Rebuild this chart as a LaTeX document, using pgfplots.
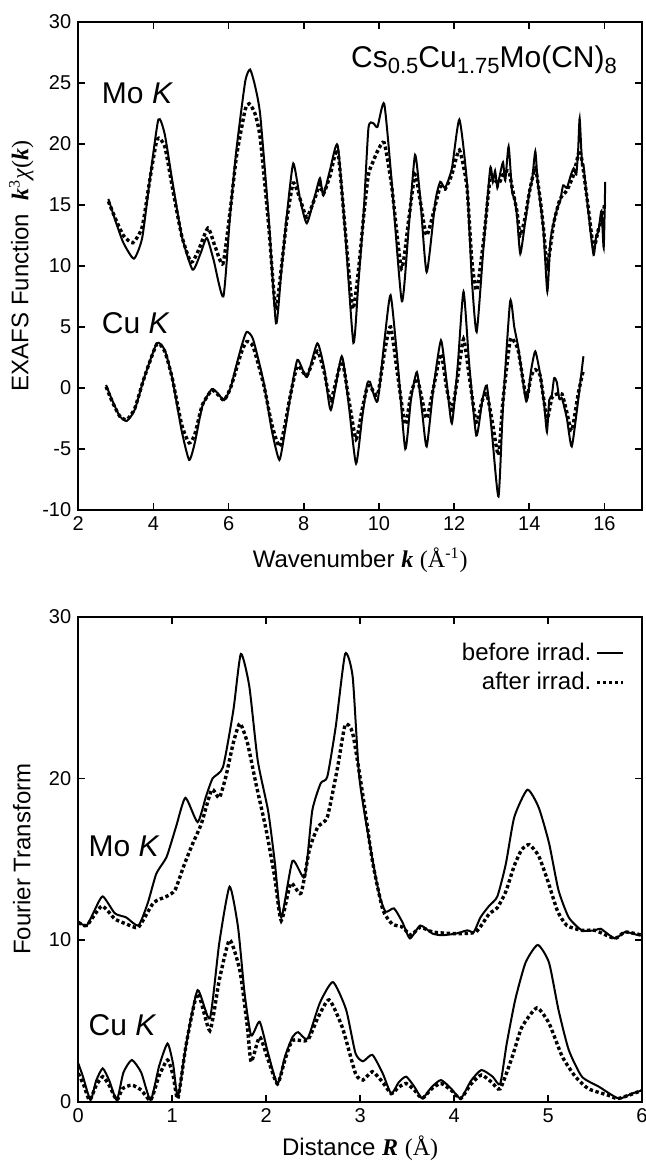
\documentclass[border=0pt]{standalone}
\usepackage{fontspec}
\setmainfont{Liberation Sans}
\newfontfamily\tnr{Liberation Serif}
\usepackage{pgfplots}
\pgfplotsset{compat=1.18}

\newcommand\sub[1]{\raisebox{-0.4ex}{\fontsize{11}{12}\selectfont #1}}
\newcommand\bk{{\tnr\bfseries\itshape k}}

\pgfplotsset{
  panel/.style={
    scale only axis, width=281.9pt,
    axis line style={line width=1pt},
    tick style={line width=0.8pt, black},
    major tick length=3.5pt,
    ticklabel style={font=\fontsize{10}{11}\selectfont},
    /pgf/number format/assume math mode=true,
    label style={font=\fontsize{12}{14}\selectfont, inner sep=1pt},
  },
  before/.style={black, line width=1pt, smooth, tension=0.35},
  after/.style={black, line width=1.7pt, dash pattern=on 1.7pt off 1.3pt, smooth, tension=0.35},
}

\begin{document}
\begin{tikzpicture}
% ---- bottom panel: Fourier transform ----
\begin{axis}[panel,
    at={(0,0)}, anchor=south west,
    height=242.5pt,
    xmin=0, xmax=6, ymin=0, ymax=30,
    xtick={0,1,2,3,4,5,6}, ytick={0,10,20,30},
    xlabel={Distance {\tnr\bfseries\itshape R} {\tnr(Å)}},
    ylabel={Fourier Transform},
    x label style={at={(axis description cs:0.5,-0.096)}, anchor=center},
    y label style={at={(axis description cs:-0.100,0.5)}, anchor=center},
    legend style={at={(0.97,0.955)}, anchor=north east, draw=none, fill=none,
      inner sep=0pt, font=\fontsize{12}{13.5}\selectfont, row sep=0.5pt},
    legend cell align=right, legend plot pos=right,
    legend image code/.code={\draw[#1, smooth=false] (0pt,0pt) -- (13pt,0pt);},
]
\addplot[before] coordinates {
(0,11.1) (0.09,10.9) (0.17,11.8) (0.26,12.7) (0.39,11.65) (0.51,11.4) (0.64,10.9)
(0.74,12.3) (0.83,14.1) (0.94,15.15) (1.04,17.0) (1.14,18.8) (1.27,17.3) (1.36,18.9)
(1.43,20.0) (1.54,20.7) (1.65,24.2) (1.73,27.7) (1.82,25.7) (1.91,21.1) (2.02,18.0)
(2.09,14.9) (2.16,11.4) (2.28,14.9) (2.41,13.9) (2.49,18.0) (2.58,19.7) (2.65,20.1)
(2.74,23.2) (2.84,27.7) (2.92,26.3) (2.99,20.1) (3.1,16.0) (3.2,12.9) (3.27,11.75)
(3.36,11.96) (3.45,11.1) (3.53,10.1) (3.64,10.9) (3.77,10.4) (3.87,10.3) (4.02,10.4)
(4.14,10.6) (4.21,10.5) (4.28,11.4) (4.37,12.1) (4.46,12.7) (4.55,14.7) (4.64,17.6)
(4.78,19.3) (4.9,18.2) (5.01,16.0) (5.11,13.1) (5.22,11.4) (5.36,10.6) (5.5,10.6)
(5.56,10.7) (5.71,10.1) (5.82,10.5) (5.96,10.3) (6.0,10.3)
};
\addlegendentry{before irrad.}
\addplot[after] coordinates {
(0,11.1) (0.09,10.9) (0.25,12.1) (0.39,11.3) (0.51,11.0) (0.64,10.8) (0.8,12.3)
(0.94,12.7) (1.03,13.1) (1.13,14.7) (1.22,16.0) (1.31,17.2) (1.42,19.3) (1.5,18.8)
(1.57,20.1) (1.65,22.2) (1.72,23.4) (1.8,22.2) (1.89,19.7) (2.0,16.8) (2.09,13.9)
(2.16,11.2) (2.26,13.5) (2.37,12.9) (2.46,15.6) (2.55,17.0) (2.65,17.6) (2.76,20.7)
(2.84,23.3) (2.92,22.8) (3.03,18.9) (3.13,14.9) (3.24,11.9) (3.34,11.0) (3.45,10.8)
(3.54,10.3) (3.64,10.8) (3.77,10.5) (4.0,10.4) (4.23,10.5) (4.37,11.6) (4.46,12.0)
(4.55,13.0) (4.64,14.6) (4.72,15.6) (4.8,15.9) (4.9,15.2) (5.0,13.6) (5.1,11.8)
(5.2,10.9) (5.36,10.6) (5.5,10.6) (5.71,10.1) (5.82,10.5) (6.0,10.3)
};
\addlegendentry{after irrad.}
\addplot[before, forget plot] coordinates {
(0,2.37) (0.05,1.55) (0.13,0.1) (0.19,1.3) (0.26,2.06) (0.33,1.3) (0.41,0.1)
(0.48,1.8) (0.57,2.58) (0.67,1.8) (0.77,0.1) (0.86,2.2) (0.95,3.6) (1.01,2.3)
(1.06,0.3) (1.15,3.6) (1.27,6.9) (1.4,5.15) (1.5,9.8) (1.61,13.3) (1.7,10.8)
(1.77,6.7) (1.84,4.1) (1.93,4.95) (2.02,3.0) (2.12,1.1) (2.2,2.8) (2.28,4.0)
(2.34,4.3) (2.44,3.9) (2.57,6.1) (2.71,7.4) (2.85,5.7) (2.95,3.0) (3.03,2.5)
(3.13,2.9) (3.24,1.75) (3.33,0.5) (3.41,1.2) (3.49,1.55) (3.58,0.9) (3.66,0.2)
(3.76,0.9) (3.86,1.34) (3.97,0.8) (4.07,0.2) (4.18,1.3) (4.29,1.96) (4.41,1.55)
(4.49,1.1) (4.56,3.6) (4.65,6.3) (4.76,8.6) (4.89,9.7) (5.01,8.6) (5.11,5.7)
(5.22,3.2) (5.36,1.55) (5.54,0.93) (5.75,0.2) (5.89,0.5) (6.0,0.7)
};
\addplot[after, forget plot] coordinates {
(0,1.75) (0.06,1.0) (0.12,0.1) (0.19,1.0) (0.26,1.55) (0.33,1.0) (0.41,0.1)
(0.47,0.8) (0.57,1.03) (0.67,0.72) (0.77,0.1) (0.86,1.6) (0.95,2.58) (1.01,1.6)
(1.06,0.2) (1.15,3.6) (1.27,6.7) (1.4,4.4) (1.5,7.5) (1.61,10.0) (1.72,8.1)
(1.8,4.6) (1.84,2.47) (1.93,4.0) (2.02,2.6) (2.12,1.1) (2.2,2.6) (2.28,3.8)
(2.44,3.8) (2.55,5.2) (2.67,6.3) (2.81,4.6) (2.95,1.75) (3.03,1.34) (3.13,1.86)
(3.24,1.2) (3.33,0.5) (3.41,0.9) (3.49,1.13) (3.58,0.7) (3.66,0.2) (3.76,0.8)
(3.86,1.13) (3.97,0.7) (4.07,0.2) (4.18,1.1) (4.29,1.65) (4.4,1.2) (4.49,0.8)
(4.62,2.8) (4.72,4.6) (4.88,5.8) (5.01,4.85) (5.15,2.8) (5.29,1.55) (5.43,0.8)
(5.64,0.4) (5.75,0.2) (6.0,0.7)
};
\node[anchor=base west, inner sep=0pt, font=\fontsize{15}{18}\selectfont] at (axis cs:0.106,15.15) {Mo \textit{K}};
\node[anchor=base west, inner sep=0pt, font=\fontsize{15}{18}\selectfont] at (axis cs:0.106,4.12) {Cu \textit{K}};
\end{axis}

% ---- top panel: EXAFS oscillations ----
\begin{axis}[panel,
    at={(0,295.9pt)}, anchor=south west,
    height=244pt,
    xmin=2, xmax=17, ymin=-10, ymax=30,
    xtick={2,4,...,16}, ytick={-10,-5,...,30},
    xlabel={Wavenumber \bk\ {\tnr(Å\textsuperscript{-1})}},
    ylabel={EXAFS Function \ \bk\textsuperscript{\tnr 3}{\tnr\itshape χ}{\tnr(}\bk{\tnr)}},
    x label style={at={(axis description cs:0.5,-0.1025)}, anchor=center},
    y label style={at={(axis description cs:-0.101,0.5)}, anchor=center},
]
\addplot[before] coordinates {
(2.8,15.5) (3.0,13.6) (3.2,11.9) (3.48,10.6) (3.7,12.3) (3.9,17.0) (4.13,22.0)
(4.3,20.8) (4.5,17.0) (4.75,12.5) (5.04,9.7) (5.25,11.0) (5.42,12.3) (5.6,10.5)
(5.86,7.5) (6.04,14.2) (6.21,19.6) (6.44,25.1) (6.57,26.1) (6.7,24.8) (6.84,22.4)
(7.06,14.2) (7.26,5.3) (7.4,9.5) (7.55,14.2) (7.72,18.4) (7.9,15.5) (8.08,13.5)
(8.3,15.8) (8.43,17.2) (8.52,15.8) (8.7,17.9) (8.9,19.9) (9.1,12.8) (9.32,3.7)
(9.45,8.5) (9.59,14.2) (9.72,21.3) (9.85,21.7) (9.96,21.4) (10.14,23.3) (10.34,16.9)
(10.61,7.1) (10.8,13.5) (10.96,19.1) (11.1,15.5) (11.27,9.5) (11.5,15.3) (11.63,16.9)
(11.76,16.4) (11.94,18.0) (12.14,22.0) (12.34,16.9) (12.47,9.0) (12.6,4.6) (12.78,11.5)
(12.96,18.0) (13.03,16.9) (13.09,17.8) (13.15,16.4) (13.2,17.2) (13.3,18.5) (13.36,17.0)
(13.45,19.8) (13.54,16.1) (13.6,15.6) (13.67,14.2) (13.76,11.0) (13.89,13.6) (14.0,16.0)
(14.08,17.2) (14.16,19.4) (14.22,17.0) (14.3,15.0) (14.38,12.8) (14.48,7.9) (14.56,12.0)
(14.65,13.6) (14.75,14.8) (14.82,15.3) (14.9,16.6) (15.0,16.4) (15.1,17.4) (15.18,18.0)
(15.25,17.5) (15.3,19.5) (15.34,22.1) (15.4,18.5) (15.44,18.3) (15.5,16.5) (15.58,14.2)
(15.71,10.9) (15.78,12.5) (15.84,12.8) (15.92,14.5) (15.98,11.5) (16.02,16.9)
};
\addplot[after] coordinates {
(2.8,15.3) (3.0,13.8) (3.2,12.5) (3.45,11.9) (3.7,13.2) (3.9,17.0) (4.1,20.4)
(4.3,19.8) (4.5,16.5) (4.75,12.5) (5.0,10.3) (5.2,11.3) (5.45,13.1) (5.65,11.5)
(5.85,10.2) (6.04,14.5) (6.21,19.0) (6.44,22.8) (6.55,23.3) (6.7,22.5) (6.84,20.5)
(7.06,13.5) (7.25,6.5) (7.4,9.8) (7.55,13.8) (7.72,16.8) (7.9,15.5) (8.08,14.0)
(8.3,15.6) (8.43,16.7) (8.52,15.9) (8.7,17.4) (8.9,19.5) (9.1,13.0) (9.3,6.5)
(9.45,9.5) (9.59,14.0) (9.72,17.5) (9.85,18.6) (9.96,19.4) (10.14,20.1) (10.34,16.5)
(10.6,9.8) (10.8,14.0) (10.96,17.5) (11.1,15.3) (11.27,12.5) (11.5,15.0) (11.63,16.5)
(11.76,16.3) (11.94,17.5) (12.14,19.5) (12.34,16.5) (12.47,10.5) (12.6,8.0) (12.78,12.0)
(12.96,17.2) (13.09,17.0) (13.2,16.8) (13.3,17.5) (13.45,17.8) (13.54,16.5) (13.67,14.5)
(13.76,12.5) (13.89,14.0) (14.0,16.0) (14.16,18.0) (14.3,15.2) (14.38,13.0) (14.48,10.0)
(14.65,13.5) (14.82,15.5) (15.0,16.2) (15.18,17.5) (15.34,19.5) (15.44,17.8) (15.58,14.5)
(15.71,11.5) (15.84,13.0) (15.95,14.0) (16.0,15.0)
};
\addplot[before] coordinates {
(2.74,0.25) (2.9,-1.0) (3.1,-2.3) (3.29,-2.7) (3.5,-1.8) (3.75,0.8) (4.09,3.66)
(4.3,3.1) (4.5,0.8) (4.75,-3.5) (4.95,-5.9) (5.1,-4.5) (5.3,-1.5) (5.55,-0.1)
(5.7,-0.4) (5.88,-1.0) (6.05,0.0) (6.21,1.9) (6.35,3.5) (6.48,4.6) (6.65,4.0)
(6.93,0.5) (7.15,-3.5) (7.35,-5.9) (7.5,-3.5) (7.63,-0.9) (7.83,2.3) (8.08,0.9)
(8.36,3.66) (8.55,1.5) (8.72,-1.8) (9.01,2.6) (9.2,-1.5) (9.39,-6.2) (9.55,-2.5)
(9.68,0.25) (9.76,0.5) (9.96,-1.1) (10.15,4.0) (10.31,7.6) (10.5,2.0) (10.7,-5.0)
(10.85,-1.0) (11.01,1.3) (11.15,-2.0) (11.27,-4.8) (11.45,0.0) (11.65,3.9) (11.8,0.5)
(11.94,-2.9) (12.1,2.0) (12.25,7.9) (12.4,2.0) (12.59,-3.9) (12.75,-1.0) (12.87,0.2)
(13.0,-3.5) (13.18,-8.9) (13.3,-1.5) (13.49,7.1) (13.6,5.0) (13.71,3.25) (13.92,-1.1)
(14.05,1.5) (14.16,3.0) (14.29,1.1) (14.4,-1.5) (14.47,-3.6) (14.53,-1.0) (14.6,-0.6)
(14.66,0.8) (14.73,0.5) (14.8,-0.9) (14.87,-0.85) (15.0,-2.5) (15.13,-4.8) (15.3,-1.0)
(15.44,2.6)
};
\addplot[after] coordinates {
(2.74,0.1) (2.9,-1.1) (3.1,-2.3) (3.29,-2.6) (3.5,-1.7) (3.75,0.8) (4.09,3.6)
(4.3,3.0) (4.5,0.8) (4.75,-3.0) (4.95,-4.5) (5.1,-3.8) (5.3,-1.4) (5.55,-0.2)
(5.7,-0.5) (5.88,-1.0) (6.05,0.0) (6.21,1.6) (6.35,3.0) (6.48,3.8) (6.65,3.4)
(6.93,0.3) (7.15,-3.0) (7.35,-4.8) (7.5,-3.0) (7.63,-0.8) (7.83,1.8) (8.08,1.0)
(8.36,3.0) (8.55,1.2) (8.72,-1.0) (9.01,2.2) (9.2,-1.0) (9.39,-4.2) (9.55,-1.8)
(9.68,0.0) (9.76,0.2) (9.96,-0.6) (10.15,3.0) (10.31,5.0) (10.5,1.0) (10.7,-3.0)
(10.85,-0.5) (11.01,0.8) (11.15,-1.0) (11.27,-2.5) (11.45,0.0) (11.65,2.8) (11.8,0.0)
(11.94,-1.8) (12.1,1.0) (12.25,4.0) (12.4,1.0) (12.59,-2.8) (12.75,-1.0) (12.87,-0.5)
(13.0,-2.5) (13.18,-5.5) (13.3,-1.0) (13.49,3.9) (13.6,3.8) (13.71,3.0) (13.92,-0.8)
(14.05,1.0) (14.16,1.5) (14.29,1.0) (14.47,-2.5) (14.6,-0.8) (14.73,-0.5) (14.87,-0.5)
(15.0,-2.0) (15.13,-3.5) (15.3,-0.5) (15.44,1.5)
};
\node[anchor=base west, inner sep=0pt, font=\fontsize{15}{18}\selectfont] at (axis cs:2.62,23.3) {Mo \textit{K}};
\node[anchor=base west, inner sep=0pt, font=\fontsize{15}{18}\selectfont] at (axis cs:2.62,4.5) {Cu \textit{K}};
\node[anchor=base east, inner sep=0pt, font=\fontsize{15}{18}\selectfont] at (axis cs:16.34,26.3)
  {Cs\sub{0.5}Cu\sub{1.75}Mo(CN)\sub{8}};
\end{axis}

\pgfresetboundingbox
\path[use as bounding box] (-39.15pt,-29.65pt) rectangle (283.4pt,550.9pt);
\end{tikzpicture}
\end{document}
